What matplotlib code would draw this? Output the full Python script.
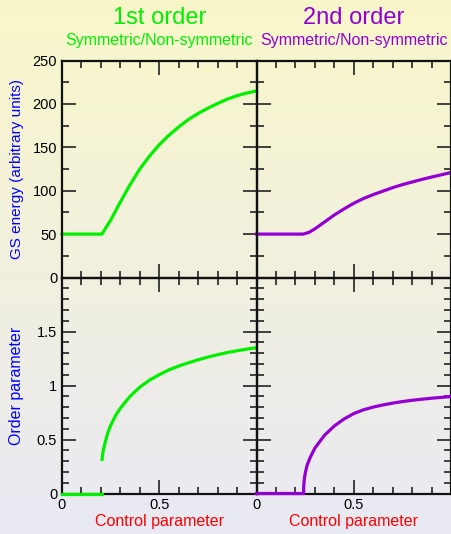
import numpy as np
import matplotlib
matplotlib.use("Agg")
import matplotlib.pyplot as plt
from matplotlib.ticker import MultipleLocator

plt.rcParams['font.family'] = ['Liberation Sans', 'DejaVu Sans']

# data
x_energy_1st = [0, 0.05, 0.1, 0.15, 0.205, 0.25, 0.3, 0.35, 0.4, 0.45, 0.5, 0.55,
                0.6, 0.65, 0.7, 0.75, 0.8, 0.85, 0.9, 0.95, 1.0]
energy_1st = [50, 50, 50, 50, 50, 66, 87, 107, 125, 140, 153, 164,
              173.5, 182, 189, 195, 200.5, 205.5, 209.5, 212.5, 215]

x_energy_2nd = [0, 0.1, 0.2, 0.24, 0.27, 0.3, 0.35, 0.4, 0.45, 0.5, 0.55,
                0.6, 0.65, 0.7, 0.75, 0.8, 0.85, 0.9, 0.95, 1.0]
energy_2nd = [50, 50, 50, 50, 52, 56, 64, 72, 79, 85.5, 91,
              95.5, 99.5, 103.5, 107, 110, 113, 115.7, 118.3, 121]

x_order_1st_low = [0, 0.205]
order_1st_low = [0, 0]
x_order_1st = [0.205, 0.21, 0.22, 0.235, 0.25, 0.275, 0.3, 0.35, 0.4, 0.45, 0.5,
               0.55, 0.6, 0.65, 0.7, 0.75, 0.8, 0.85, 0.9, 0.95, 1.0]
order_1st = [0.3, 0.38, 0.46, 0.56, 0.63, 0.72, 0.79, 0.9, 0.985, 1.05, 1.10,
             1.145, 1.18, 1.21, 1.238, 1.263, 1.285, 1.305, 1.322, 1.337, 1.35]

x_order_2nd = [0, 0.242, 0.2425, 0.244, 0.247, 0.252, 0.26, 0.275, 0.3, 0.35, 0.4,
               0.45, 0.5, 0.55, 0.6, 0.65, 0.7, 0.75, 0.8, 0.85, 0.9, 0.95, 1.0]
order_2nd = [0, 0, 0.05, 0.1, 0.15, 0.2, 0.26, 0.33, 0.42, 0.54, 0.625,
             0.69, 0.74, 0.775, 0.80, 0.82, 0.837, 0.851, 0.863, 0.873, 0.882, 0.89, 0.897]

titles = ["1st order", "2nd order"]
subtitle = "Symmetric/Non-symmetric"
green = "#00f000"
purple = "#9400d3"

W, H = 452, 534
fig = plt.figure(figsize=(W / 100, H / 100), dpi=100)

# background gradient
bg = fig.add_axes([0, 0, 1, 1], zorder=-10)
top_col = np.array([249, 247, 201]) / 255
bot_col = np.array([233, 233, 244]) / 255
t = np.linspace(0, 1, 256)[:, None, None]
grad = top_col * (1 - t) + bot_col * t
bg.imshow(grad, aspect='auto', extent=[0, 1, 0, 1])
bg.axis('off')

xl = [62 / W, 256.5 / W]
w = 194.5 / W
top_y, top_h = (H - 277.5) / H, 217 / H
bot_y, bot_h = (H - 493.5) / H, 216 / H


def style(ax, xlab):
    ax.set_facecolor('none')
    ax.set_xlim(0, 1)
    ax.xaxis.set_major_locator(MultipleLocator(0.5))
    ax.xaxis.set_minor_locator(MultipleLocator(0.1))
    ax.tick_params(which='both', direction='in', top=True, right=True,
                   colors='#222222', labelcolor='black', labelsize=10.5)
    ax.tick_params(which='major', length=10, width=1.2)
    ax.tick_params(which='minor', length=5, width=1.2)
    for s in ax.spines.values():
        s.set_linewidth(1.6)
        s.set_color('#111111')
    if xlab:
        ax.set_xticks([0, 0.5, 1])
        ax.set_xticklabels(['0', '0.5', ''])
        ax.set_xlabel("Control parameter", color='red', fontsize=11.5, labelpad=1)
    else:
        ax.tick_params(labelbottom=False)


axes = {}
for j in range(2):
    axt = fig.add_axes([xl[j], top_y, w, top_h])
    axb = fig.add_axes([xl[j], bot_y, w, bot_h])
    axes[j] = (axt, axb)
    style(axt, False)
    style(axb, True)
    axt.set_ylim(0, 250)
    axt.yaxis.set_major_locator(MultipleLocator(50))
    axt.yaxis.set_minor_locator(MultipleLocator(25))
    axb.set_ylim(0, 2)
    axb.set_yticks([0, 0.5, 1, 1.5, 2])
    axb.set_yticklabels(['0', '0.5', '1', '1.5', ''])
    axb.yaxis.set_minor_locator(MultipleLocator(0.1))
    if j == 1:
        axt.tick_params(labelleft=False)
        axb.tick_params(labelleft=False)

axes[0][0].set_ylabel("GS energy (arbitrary units)", color='blue', fontsize=11)
axes[0][1].set_ylabel("Order parameter", color='blue', fontsize=11.5)
axes[0][0].yaxis.set_label_coords(-0.195, 0.5)
axes[0][1].yaxis.set_label_coords(-0.195, 0.5)

lw = 2.3
axes[0][0].plot(x_energy_1st, energy_1st, color=green, lw=lw, clip_on=False)
axes[1][0].plot(x_energy_2nd, energy_2nd, color=purple, lw=lw, clip_on=False)
axes[0][1].plot(x_order_1st_low, order_1st_low, color=green, lw=lw, clip_on=False, zorder=3)
axes[0][1].plot(x_order_1st, order_1st, color=green, lw=lw, solid_capstyle='butt')
axes[1][1].plot(x_order_2nd, order_2nd, color=purple, lw=lw, clip_on=False, zorder=3)

for j, (title, col) in enumerate(zip(titles, [green, purple])):
    cx = xl[j] + w / 2
    fig.text(cx, 1 - 18 / H, title, color=col, fontsize=17, ha='center', va='center')
    fig.text(cx, 1 - 41 / H, subtitle, color=col, fontsize=11.5, ha='center', va='center')

fig.savefig("out.png", dpi=100)
